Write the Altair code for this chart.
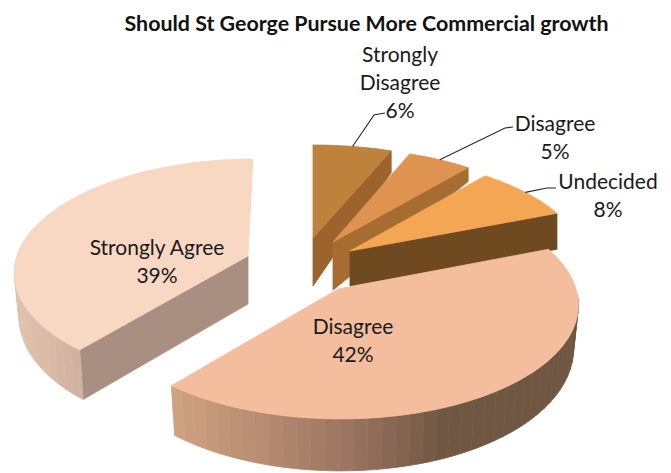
import math
import altair as alt

# Survey answers, in the clockwise order the slices are laid out
answers = ["Strongly Agree", "Strongly Disagree", "Disagree", "Undecided", "Disagree"]
shares = [39, 6, 5, 8, 42]
label_lines = ["Strongly Agree\n39%", "Strongly\nDisagree\n6%", "Disagree\n5%", "Undecided\n8%", "Disagree\n42%"]
label_x = [157, 400, 555, 608, 353]
label_y = [249, 56, 125, 183, 328]
title_text = "Should St George Pursue More Commercial growth"

top_colors = ["#F8D7C3", "#BF823C", "#DF9350", "#F5A655", "#F4BE9E"]
wall_colors = ["#A98F81", "#9C642C", "#A66C32", "#6F4A20", "#6F5743"]

# Per-slice pseudo-3D placement: exploded apex, stretch, shear, and wall depth
# measured at the apex and at the outer end of the visible radial wall.
apex = [(248, 256), (313, 238), (333, 242), (350, 251), (338, 289)]
stretch = [(0.97, 0.97), (1.0, 0.93), (0.98, 0.94), (0.98, 0.95), (1.0, 1.0)]
shear = [-0.05, 0, 0, 0, 0.02]
apex_depth = [48, 48, 48, 35, 0]
far_depth = [50, 22, 14, 36, 0]
has_rim = [True, False, False, False, True]

# Camera model for the squashed pie
RX, RY, PERSP = 238, 113, 0.13
BOTTOM_SHRINK = 0.98
START_DEG = -140.4  # first slice starts here, swinging clockwise to twelve o'clock
BAND_DEG = 3.5  # width of one shading band along the outer wall
LEADER_FROM = {1: (385, 113, 374, 115), 2: (513, 127, 505, 128), 3: (556, 188, 547, 188)}


def rim_point(i, deg):
    t = math.radians(deg)
    d = 1 + PERSP * math.cos(t)
    yo = -RY * math.cos(t) / d * stretch[i][1]
    xo = RX * math.sin(t) / d * stretch[i][0] + shear[i] * yo
    return apex[i][0] + xo, apex[i][1] + yo


def rim_depth(deg):
    return 42 + 10 * max(0.0, -math.cos(math.radians(deg)))


def mix(stops, x):
    # piecewise-linear colour ramp over screen x
    xs = [s[0] for s in stops]
    if x <= xs[0]:
        return stops[0][1]
    if x >= xs[-1]:
        return stops[-1][1]
    for (x0, c0), (x1, c1) in zip(stops, stops[1:]):
        if x0 <= x <= x1:
            f = (x - x0) / (x1 - x0)
            rgb = [round(int(c0[k:k + 2], 16) * (1 - f) + int(c1[k:k + 2], 16) * f) for k in (1, 3, 5)]
            return "#%02X%02X%02X" % tuple(rgb)


rim_ramps = {
    0: [(15, "#E0C3AE"), (50, "#DAB8A6"), (85, "#CDB0A0")],
    4: [(172, "#CFA280"), (250, "#B98F74"), (340, "#9E7763"), (445, "#6F5743")],
}


def polygon(points, fill):
    ring = [[round(x, 2), round(y, 2)] for x, y in points]
    ring.append(ring[0])
    return {
        "type": "Feature",
        "properties": {"fill": fill},
        "geometry": {"type": "Polygon", "coordinates": [ring]},
    }


features = []
leaders = []
edge = START_DEG
for i, share in enumerate(shares):
    a0, a1 = edge, edge + share * 3.6
    edge = a1
    steps = max(6, int((a1 - a0) / 1.5))
    angles = [a0 + (a1 - a0) * k / steps for k in range(steps + 1)]
    rim = [rim_point(i, a) for a in angles]
    ax, ay = apex[i]

    if has_rim[i]:
        if i == 0:
            # flat cut face of the left slice, seen from the front
            cx, cy = rim[0]
            features.append(polygon(
                [(ax, ay), (cx, cy), (ax + (cx - ax) * BOTTOM_SHRINK, cy + rim_depth(a0)), (ax, ay + apex_depth[i])],
                wall_colors[i],
            ))
        # outer wall, only on the arc that faces the viewer, in coarse shaded bands
        k = 0
        per_band = max(1, round(BAND_DEG / ((a1 - a0) / steps)))
        while k < steps:
            end = min(k + per_band, steps)
            if 90 <= (angles[k] % 360) <= 285:
                front = list(zip(angles[k:end + 1], rim[k:end + 1]))
                outline = [p for _, p in front]
                base = [
                    (ax + (p[0] - ax) * BOTTOM_SHRINK, p[1] + rim_depth(a))
                    for a, p in reversed(front)
                ]
                mid_x = (rim[k][0] + rim[end][0]) / 2
                features.append(polygon(outline + base, mix(rim_ramps[i], mid_x)))
            k = end
    else:
        # radial wall below the clockwise edge of the small back slices
        cx, cy = rim[-1]
        features.append(polygon(
            [(ax, ay), (cx, cy), (cx, cy + far_depth[i]), (ax, ay + apex_depth[i])],
            wall_colors[i],
        ))

    features.append(polygon([(ax, ay)] + rim, top_colors[i]))

    if i in LEADER_FROM:
        lx0, ly0, lx1, ly1 = LEADER_FROM[i]
        ex, ey = rim_point(i, (a0 + a1) / 2)
        for order, (px, py) in enumerate([(lx0, ly0), (lx1, ly1), (ex, ey)]):
            leaders.append({"slice": i, "order": order, "x": px, "y": py})

shapes = (
    alt.Chart(alt.Data(values=features))
    .mark_geoshape(strokeWidth=0.8)
    .encode(
        fill=alt.Fill("properties.fill:N", scale=None),
        stroke=alt.Stroke("properties.fill:N", scale=None),
    )
    .project(type="identity", scale=1, translate=[0, 0])
)

leader_lines = (
    alt.Chart(alt.Data(values=leaders))
    .mark_line(color="#262626", strokeWidth=1.1)
    .encode(
        x=alt.X("x:Q", scale=None),
        y=alt.Y("y:Q", scale=None),
        detail="slice:N",
        order="order:Q",
    )
)

label_rows = [
    {"answer": a, "text": t, "x": x, "y": y}
    for a, t, x, y in zip(answers, label_lines, label_x, label_y)
]
labels = (
    alt.Chart(alt.Data(values=label_rows))
    .mark_text(font="Lato", fontSize=21, color="#1A1A1A", align="center", baseline="middle",
               lineBreak="\n", lineHeight=28)
    .encode(x=alt.X("x:Q", scale=None), y=alt.Y("y:Q", scale=None), text="text:N")
)

title = (
    alt.Chart(alt.Data(values=[{"text": title_text, "x": 366.5, "y": 25}]))
    .mark_text(font="Lato", fontWeight="bold", fontSize=21.4, color="#111111", align="center", baseline="middle")
    .encode(x=alt.X("x:Q", scale=None), y=alt.Y("y:Q", scale=None), text="text:N")
)

chart = (
    alt.layer(shapes, leader_lines, labels, title)
    .properties(width=671, height=473, padding=0, autosize=alt.AutoSizeParams(type="none"))
    .configure_view(stroke=None)
    .configure_axis(disable=True)
)

chart.save("out.html", embed_options={"renderer": "svg", "actions": False})
